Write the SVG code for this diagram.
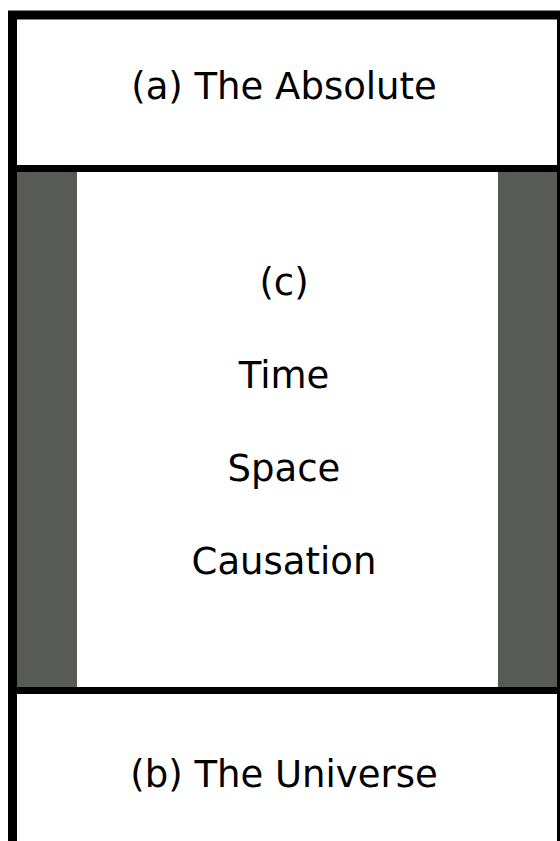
<svg xmlns="http://www.w3.org/2000/svg" width="560" height="841" viewBox="0 0 560 841">
<style>
.lbl{font-family:"DejaVu Sans",sans-serif;font-size:37px;fill:#000;text-anchor:middle}
.side{fill:#575a55}
.line{stroke:#000;fill:none}
</style>
<rect x="0" y="0" width="560" height="841" fill="#fff"/>
<g id="absolute">
<rect x="12.5" y="15.5" width="549" height="153" fill="#fff"/>
<text class="lbl" x="284" y="99">(a) The Absolute</text>
</g>
<g id="middle">
<rect class="side" x="17" y="172" width="60" height="515"/>
<rect class="side" x="498" y="172" width="59" height="515"/>
<text class="lbl" x="284" y="295">(c)</text>
<text class="lbl" x="284" y="388">Time</text>
<text class="lbl" x="284" y="481">Space</text>
<text class="lbl" x="284" y="574">Causation</text>
</g>
<g id="universe">
<text class="lbl" x="284" y="787">(b) The Universe</text>
</g>
<g id="connectors">
<rect class="line" x="12.5" y="15" width="549" height="840" stroke-width="9"/>
<line class="line" x1="17" y1="168.5" x2="557" y2="168.5" stroke-width="7"/>
<line class="line" x1="17" y1="690.5" x2="557" y2="690.5" stroke-width="7"/>
</g>
</svg>
